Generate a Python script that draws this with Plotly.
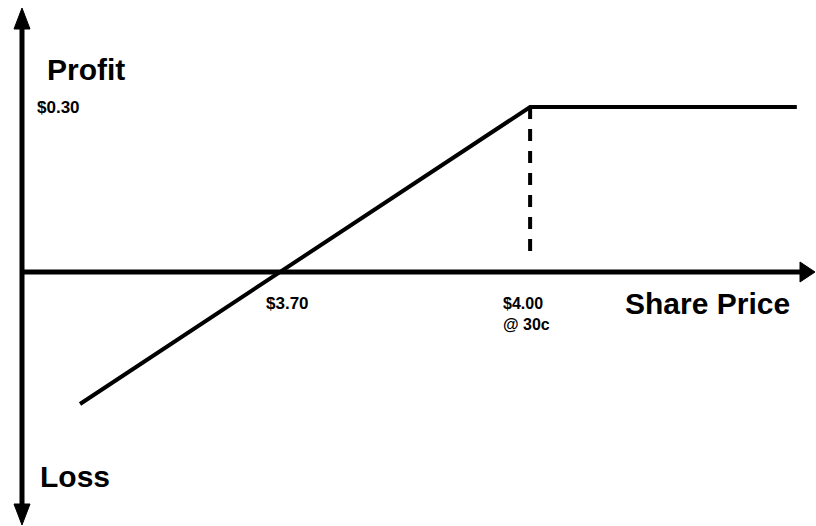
import plotly.graph_objects as go

# ---- data ----
share_price = [3.46, 3.70, 4.00, 4.32]
profit = [-0.24, 0.00, 0.30, 0.30]
strike_price = 4.00
max_profit = 0.30
breakeven = 3.70
price_labels = ["$3.70", "$4.00<br>@ 30c"]
price_label_x = [3.70, 4.00]
profit_label = "$0.30"
axis_titles = ["Profit", "Loss", "Share Price"]

W, H = 816, 526
X_RANGE = [3.364, 4.343]
Y_RANGE = [-0.4618, 0.4945]


def px(x):
    return x / W


def py(y):
    return 1 - y / H


FONT = "Arial, Liberation Sans, Helvetica, sans-serif"

fig = go.Figure()

fig.add_trace(go.Scatter(
    x=share_price, y=profit, mode="lines",
    line=dict(color="black", width=4), hoverinfo="skip", showlegend=False,
))

# dashed drop line at the strike
fig.add_trace(go.Scatter(
    x=[strike_price, strike_price], y=[max_profit, 0.022], mode="lines",
    line=dict(color="black", width=4, dash="12px,10px"),
    hoverinfo="skip", showlegend=False,
))

shapes = []
# axes shafts
shapes.append(dict(type="line", xref="paper", yref="paper",
                   x0=px(22), y0=py(25), x1=px(22), y1=py(508),
                   line=dict(color="black", width=5)))
shapes.append(dict(type="line", xref="paper", yref="y",
                   x0=px(20), y0=0, x1=px(803), y1=0,
                   line=dict(color="black", width=5)))


def tri(points):
    p = "M " + " L ".join(f"{px(a)},{py(b)}" for a, b in points) + " Z"
    return dict(type="path", xref="paper", yref="paper", path=p,
                fillcolor="black", line=dict(color="black", width=1))


shapes.append(tri([(22, 8), (14, 29), (30, 29)]))
shapes.append(tri([(22, 525), (14, 504), (30, 504)]))
shapes.append(tri([(815, 272), (800, 262), (800, 282)]))

annotations = []
big = dict(family=FONT, size=30, color="black")
small = dict(family=FONT, size=17, color="black")


def ann(text, x, y, font, xref="paper", yref="paper", align="left"):
    annotations.append(dict(text=f"<b>{text}</b>", x=x, y=y, xref=xref, yref=yref,
                            xanchor="left", yanchor="middle", showarrow=False,
                            font=font, align=align))


ann(axis_titles[0], px(45), py(69), big)
ann(axis_titles[1], px(38), py(476), big)
ann(axis_titles[2], px(623), py(304), big)
ann(profit_label, px(35), py(107), small)
ann(price_labels[0], price_label_x[0] - 16 / 833.33, py(304), small, xref="x")
ann(price_labels[1], price_label_x[1] - 29 / 833.33, py(314), dict(family=FONT, size=16, color="black"), xref="x")

fig.update_layout(
    width=W, height=H,
    margin=dict(l=0, r=0, t=0, b=0),
    paper_bgcolor="white", plot_bgcolor="white",
    xaxis=dict(range=X_RANGE, visible=False, fixedrange=True),
    yaxis=dict(range=Y_RANGE, visible=False, fixedrange=True),
    shapes=shapes, annotations=annotations,
    showlegend=False,
)

fig.write_html(
    "out.html",
    config={"displayModeBar": False},
    post_script="document.body.style.margin='0';document.body.style.overflow='hidden';",
)
